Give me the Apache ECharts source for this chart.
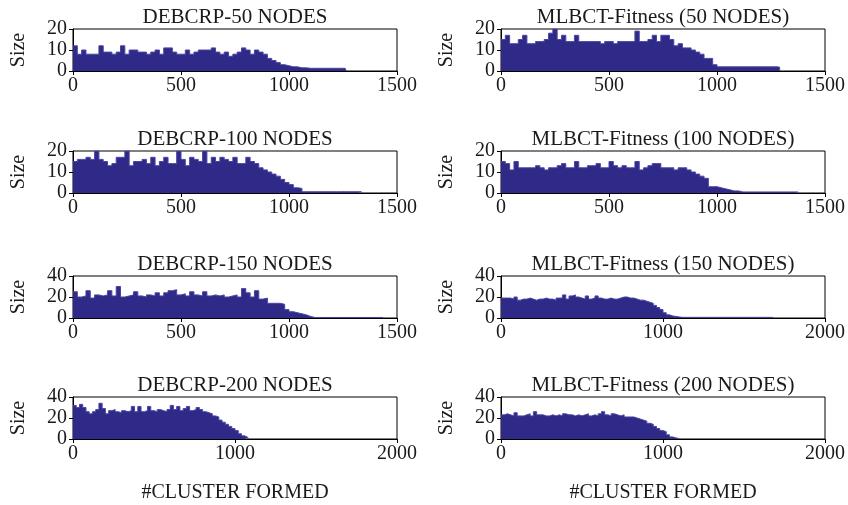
<!DOCTYPE html>
<html>
<head>
<meta charset="utf-8">
<script src="https://cdn.jsdelivr.net/npm/echarts@6/dist/echarts.min.js"></script>
<style>
html,body{margin:0;padding:0;background:#fff;}
#chart{width:848px;height:505px;}
</style>
</head>
<body>
<div id="chart"></div>
<script>
// bin width (in #cluster units) of each step value
const binWidth = 20;

const titles = [
  "DEBCRP-50 NODES", "MLBCT-Fitness (50 NODES)",
  "DEBCRP-100 NODES", "MLBCT-Fitness (100 NODES)",
  "DEBCRP-150 NODES", "MLBCT-Fitness (150 NODES)",
  "DEBCRP-200 NODES", "MLBCT-Fitness (200 NODES)"
];

const debcrp50 = [12,8,10,8,8,8,12,9,9,8, 9,12,8,10,10,9,9,8,9,10, 8,11,11,9,8,8,10,8,9,10,
  10,10,11,9,8,9,7,8,9,11, 10,8,10,9,8,6,5,4,3,2.5, 2,2,1.5,1.5,1.3,1.3,1.3,1.3,1.3,1.3, 1.3,1.3,1.3,1.3];
const debcrp50End = 1265;

const mlbct50 = [15,17,13,13,15,17,13,13,14,14, 15,18,20,15,17,14,14,17,14,14, 14,14,14,13,14,14,13,14,14,14,
  14,19,14,14,15,17,14,17,17,15, 12,13,11,11,10,9,8,6,6,3, 2,2,2,2,2,2,2,2,2,2, 2,2,2,2,1.8];
const mlbct50End = 1290;

const debcrp100 = [15,16,16,17,16,20,16,15,13,14, 17,17,20,13,15,15,16,14,17,13, 15,17,14,14,20,16,13,17,16,15,
  20,14,17,15,17,16,15,17,14,14, 17,15,14,12,11,10,9,8,6.5,5, 4,2.5,2.2,
  0.6,0.6,0.6,0.6,0.6,0.6,0.6,0.6,0.6,0.6,0.6,0.6,0.6,0.6];
const debcrp100End = 1335;

const mlbct100 = [15,14,11,15,12,12,12,12,13,12, 11,12,12,13,14,12,12,15,12,12, 13,13,14,12,12,15,13,12,13,12,
  12,15,11,12,13,14,14,12,12,12, 11,12,12,11,10,9,8,7,3,3, 2.5,2,1.5,1,1,
  0.5,0.5,0.5,0.5,0.5,0.5,0.5,0.5,0.5,0.5,0.5,0.5,0.5,0.5];
const mlbct100End = 1375;

const debcrp150 = [25,20,21,26,19,22,21,22,26,21, 30,20,21,22,25,21,20,22,21,24, 21,24,26,27,22,23,21,25,22,21,
  25,21,22,21,22,20,21,22,20,28, 24,20,26,18,19,14,14,14,13,8, 6,5,4,3,1.5,
  0.5,0.5,0.5,0.5,0.5,0.5,0.5,0.5,0.5,0.5,0.5,0.5,0.5,0.5,0.5,0.5,0.5];
const debcrp150End = 1435;

const mlbct150 = [19,19,19,18,20,17,18,18,19,18, 17,18,18,19,18,18,17,19,19,22, 18,21,22,20,19,18,21,18,19,21,
  19,18,18,19,18,18,19,20,20,19, 19,18,17,17,16,15,14,12,10,8, 5,3,2,1.5,1,
  0.6,0.6,0.6,0.6,0.6,0.6,0.6,0.6,0.6,0.6,0.6,0.6,0.6,0.6,0.6,0.6,0.6,0.6,0.6,0.6,0.6,0.6,0.6,0.6,0.6,0.6,0.6,0.6,0.6];
const mlbct150End = 1680;

const debcrp200 = [32,30,33,30,26,24,26,28,34,29, 24,27,28,26,25,27,26,27,31,26, 31,26,27,31,27,26,28,27,26,28,
  32,28,31,27,29,31,27,28,30,28, 26,25,24,22,21,18,16,14,12,10, 8,5,3,1.5];
const debcrp200End = 1080;

const mlbct200 = [23,24,23,22,25,22,22,23,24,22, 26,23,23,22,22,23,22,23,22,24, 23,23,22,23,22,23,24,22,23,22,
  24,26,23,22,24,23,22,23,21,21, 21,20,19,18,17,15,14,12,10,8, 7,4,2,1,0.5];
const mlbct200End = 1100;

const yMaxs = [20, 20, 20, 20, 40, 40, 40, 40];
const yIntervals = [10, 10, 10, 10, 20, 20, 20, 20];
const xMaxs = [1500, 1500, 1500, 1500, 1500, 2000, 2000, 2000];
const xIntervals = [500, 500, 500, 500, 500, 1000, 1000, 1000];
const xAxisTitle = "#CLUSTER FORMED";
const yAxisTitle = "Size";

const seriesValues = [debcrp50, mlbct50, debcrp100, mlbct100, debcrp150, mlbct150, debcrp200, mlbct200];
const seriesEnds = [debcrp50End, mlbct50End, debcrp100End, mlbct100End, debcrp150End, mlbct150End, debcrp200End, mlbct200End];

// layout
const colLeft = [73, 501];
const plotW = 324;
const rowTop = [29, 151, 276, 397];
const plotH = 42;
const FONT = "Liberation Serif";
const TXT = "#1a1a1a";
const fill = "#2f2a87";

const grids = [], xAxes = [], yAxes = [], series = [], titleArr = [];
for (let p = 0; p < 8; p++) {
  const r = Math.floor(p / 2), c = p % 2;
  grids.push({
    left: colLeft[c], top: rowTop[r], width: plotW, height: plotH,
    show: true, borderColor: "#000", borderWidth: 1, backgroundColor: "transparent", containLabel: false
  });
  titleArr.push({
    text: titles[p], left: colLeft[c] + plotW / 2 - 5, top: rowTop[r] - 27, textAlign: "center",
    textStyle: { fontFamily: FONT, fontSize: 21, fontWeight: "normal", color: TXT }
  });
  xAxes.push({
    gridIndex: p, type: "value", min: 0, max: xMaxs[p], interval: xIntervals[p],
    axisLine: { show: true, lineStyle: { color: "#000", width: 1 } },
    axisTick: { show: true, length: 4, inside: false, lineStyle: { color: "#000" } },
    axisLabel: { fontFamily: FONT, fontSize: 20, color: TXT, margin: 5, formatter: v => String(v) },
    splitLine: { show: false },
    name: r === 3 ? xAxisTitle : "", nameLocation: "middle", nameGap: 44,
    nameTextStyle: { fontFamily: FONT, fontSize: 20, color: TXT }
  });
  yAxes.push({
    gridIndex: p, type: "value", min: 0, max: yMaxs[p], interval: yIntervals[p],
    axisLine: { show: true, lineStyle: { color: "#000", width: 1 } },
    axisTick: { show: true, length: 4, inside: false, lineStyle: { color: "#000" } },
    axisLabel: { fontFamily: FONT, fontSize: 20, color: TXT, margin: 6, formatter: v => String(v) },
    splitLine: { show: false },
    name: yAxisTitle, nameLocation: "middle", nameGap: 44, nameRotate: 90,
    nameTextStyle: { fontFamily: FONT, fontSize: 20, color: TXT }
  });
  const vals = seriesValues[p];
  const data = vals.map((v, i) => [i * binWidth, v]);
  data.push([seriesEnds[p], 0]);
  series.push({
    type: "line", xAxisIndex: p, yAxisIndex: p, step: "end", data: data,
    symbol: "none", silent: true, animation: false,
    lineStyle: { color: "#4a45a3", width: 1 },
    areaStyle: { color: fill, opacity: 1 }
  });
}

const chart = echarts.init(document.getElementById("chart"), null, { renderer: "canvas" });
chart.setOption({
  backgroundColor: "#fff",
  animation: false,
  title: titleArr,
  grid: grids,
  xAxis: xAxes,
  yAxis: yAxes,
  series: series
});
</script>
</body>
</html>
